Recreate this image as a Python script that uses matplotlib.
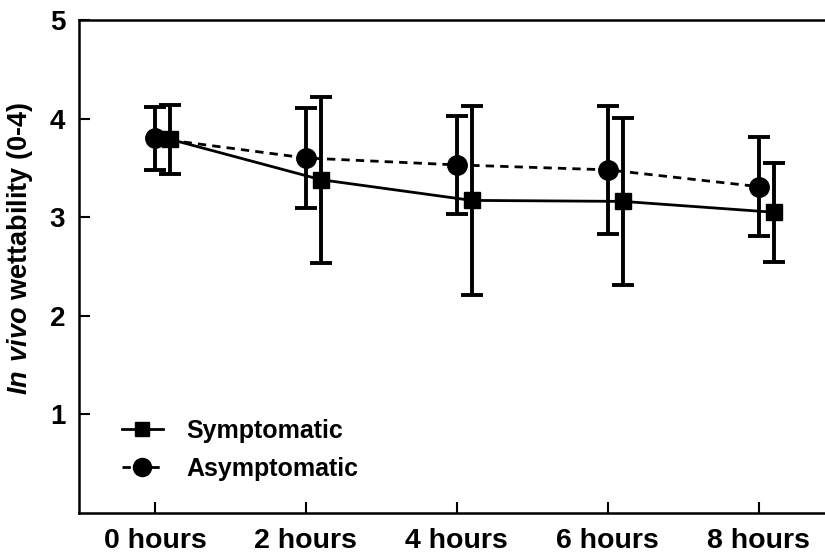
import matplotlib
matplotlib.use("Agg")
import matplotlib.pyplot as plt
from matplotlib.lines import Line2D
import numpy as np

plt.rcParams['font.family'] = ['Liberation Sans', 'DejaVu Sans']
plt.rcParams['font.weight'] = 'bold'
plt.rcParams['mathtext.fontset'] = 'custom'
plt.rcParams['mathtext.bfit'] = 'Liberation Sans:italic:bold'
plt.rcParams['mathtext.rm'] = 'Liberation Sans:bold'

categories = ["0 hours", "2 hours", "4 hours", "6 hours", "8 hours"]

symptomatic_mean = [3.79, 3.38, 3.17, 3.16, 3.05]
symptomatic_err = [0.35, 0.84, 0.96, 0.85, 0.50]

asymptomatic_mean = [3.80, 3.60, 3.53, 3.48, 3.31]
asymptomatic_err = [0.32, 0.51, 0.50, 0.65, 0.50]

yticks = [1, 2, 3, 4, 5]

fig = plt.figure(figsize=(8.25, 5.54), dpi=100)
ax = fig.add_axes([0.0958, 0.074, 0.9042, 0.890])

x = np.arange(len(categories))
offset = 0.1

sym_style = dict(color='black', linestyle='-', linewidth=2.0,
                 marker='s', markersize=11)
asym_style = dict(color='black', linestyle=(0, (3, 2.2)), linewidth=2.0,
                  marker='o', markersize=14)

ax.errorbar(x + offset, symptomatic_mean, yerr=symptomatic_err,
            elinewidth=2.8, capsize=8, capthick=2.8, zorder=3, **sym_style)
ax.errorbar(x, asymptomatic_mean, yerr=asymptomatic_err,
            elinewidth=2.8, capsize=8, capthick=2.8, zorder=3, **asym_style)

ax.set_xlim(-0.503, 4.44)
ax.set_ylim(0, 5)
ax.set_xticks(x)
ax.set_xticklabels(categories, fontsize=20.5, fontweight='bold')
ax.set_yticks(yticks)
ax.set_yticklabels([str(v) for v in yticks], fontsize=20, fontweight='bold')
ax.tick_params(axis='both', direction='in', length=8, width=1.5)
ax.tick_params(axis='y', pad=10)
ax.tick_params(axis='x', pad=11)

for side in ('left', 'bottom', 'top'):
    ax.spines[side].set_linewidth(1.8)
ax.spines['right'].set_visible(False)

ax.set_ylabel(r"$\mathbfit{In\ vivo}$ wettability (0-4)", fontsize=19.5,
              fontweight='bold')
ax.yaxis.set_label_coords(-0.059, 0.537)

legend_sym = dict(sym_style, markersize=10)
legend_asym = dict(asym_style, markersize=13)
handles = [Line2D([], [], **legend_sym), Line2D([], [], **legend_asym)]
leg = ax.legend(handles, ['Symptomatic', 'Asymptomatic'],
                loc='lower left', bbox_to_anchor=(0.027, 0.02), frameon=False,
                fontsize=18, handlelength=1.65, handletextpad=0.95,
                labelspacing=0.55)
for t in leg.get_texts():
    t.set_fontweight('bold')

fig.savefig("out.png", dpi=100)
